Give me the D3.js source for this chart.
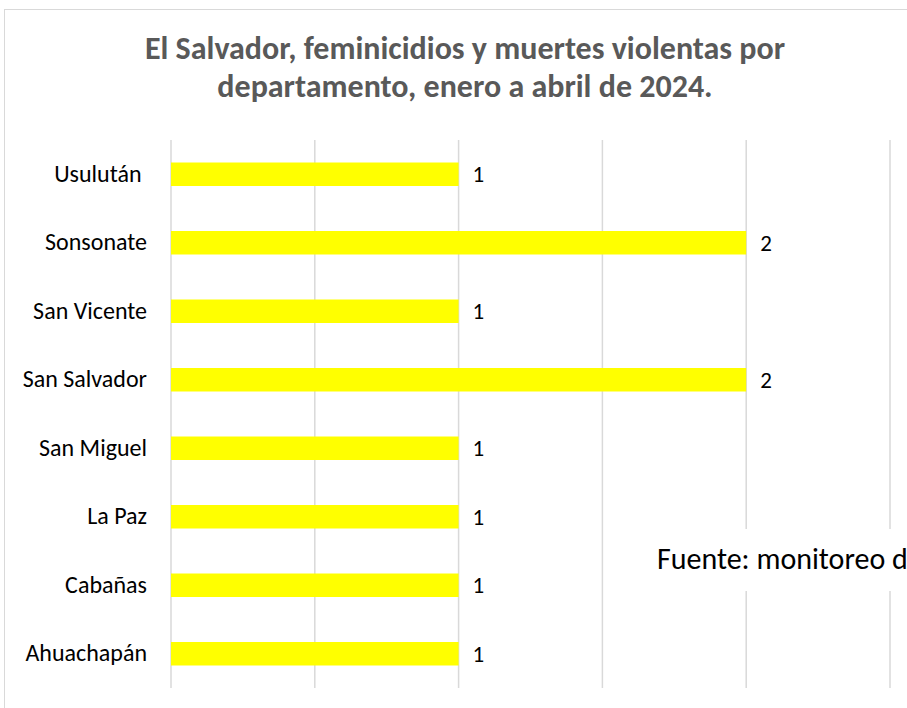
<!DOCTYPE html>
<html>
<head>
<meta charset="utf-8">
<script src="https://cdn.jsdelivr.net/npm/d3@7"></script>
<style>
  html, body { margin: 0; padding: 0; background: #fff; overflow: hidden; }
  svg text { font-family: Carlito, Calibri, Lato, sans-serif; white-space: pre; }
</style>
</head>
<body>
<div id="chart"></div>
<script>
// datos (de abajo hacia arriba, como en Excel)
var departamentos = ["Ahuachapán", "Cabañas", "La Paz", "San Miguel", "San Salvador", "San Vicente", "Sonsonate", "Usulután "];
var casos = [1, 1, 1, 1, 2, 1, 2, 1];
var ticks = [0, 0.5, 1, 1.5, 2, 2.5];
var titulo = ["El Salvador, feminicidios y muertes violentas por", "departamento, enero a abril de 2024."];
var fuente = "Fuente: monitoreo de prensa";

var W = 907, H = 708;
var svg = d3.select("#chart").append("svg").attr("width", W).attr("height", H);

// marco del grafico (sale por la derecha y por abajo)
svg.append("rect")
    .attr("x", 4.5).attr("y", 9.5)
    .attr("width", 960).attr("height", 760)
    .attr("fill", "#fff").attr("stroke", "#d9d9d9").attr("stroke-width", 1);

var x = d3.scaleLinear().domain([0, 2.5]).range([171, 890]);
var y = d3.scaleBand().domain(departamentos).range([688, 140])
    .paddingInner(0.657).paddingOuter(0.657 / 2);

var g = svg.append("g");

// lineas de division
g.selectAll("line.grid").data(ticks).enter().append("line")
    .attr("class", "grid")
    .attr("x1", function(d){ return x(d); }).attr("x2", function(d){ return x(d); })
    .attr("y1", 140).attr("y2", 688)
    .attr("stroke", "#d9d9d9").attr("stroke-width", 1.5);

// barras
g.selectAll("rect.bar").data(casos).enter().append("rect")
    .attr("class", "bar")
    .attr("x", x(0))
    .attr("y", function(d, i){ return y(departamentos[i]); })
    .attr("width", function(d){ return x(d) - x(0); })
    .attr("height", y.bandwidth())
    .attr("fill", "#ffff00");

// etiquetas de datos
g.selectAll("text.val").data(casos).enter().append("text")
    .attr("class", "val")
    .attr("x", function(d){ return x(d) + 14; })
    .attr("y", function(d, i){ return y(departamentos[i]) + y.bandwidth() / 2; })
    .attr("dy", "0.35em")
    .attr("font-size", 23)
    .attr("fill", "#000")
    .text(function(d){ return d; });

// eje de categorias
var yAxis = d3.axisLeft(y).tickSize(0).tickPadding(0);
var ya = svg.append("g").attr("transform", "translate(147,0)").call(yAxis);
ya.select(".domain").remove();
ya.selectAll("text").attr("font-size", 24).attr("fill", "#000").attr("font-family", null);

// titulo
svg.selectAll("text.title").data(titulo).enter().append("text")
    .attr("class", "title")
    .attr("x", 465)
    .attr("y", function(d, i){ return 59 + i * 38; })
    .attr("text-anchor", "middle")
    .attr("font-size", 32).attr("font-weight", "bold")
    .attr("fill", "#595959")
    .text(function(d){ return d; });

// cuadro de fuente
svg.append("rect")
    .attr("x", 640).attr("y", 529).attr("width", 300).attr("height", 62)
    .attr("fill", "#fff");
svg.append("text")
    .attr("x", 657).attr("y", 569)
    .attr("font-size", 30).attr("fill", "#000")
    .text(fuente);
</script>
</body>
</html>
